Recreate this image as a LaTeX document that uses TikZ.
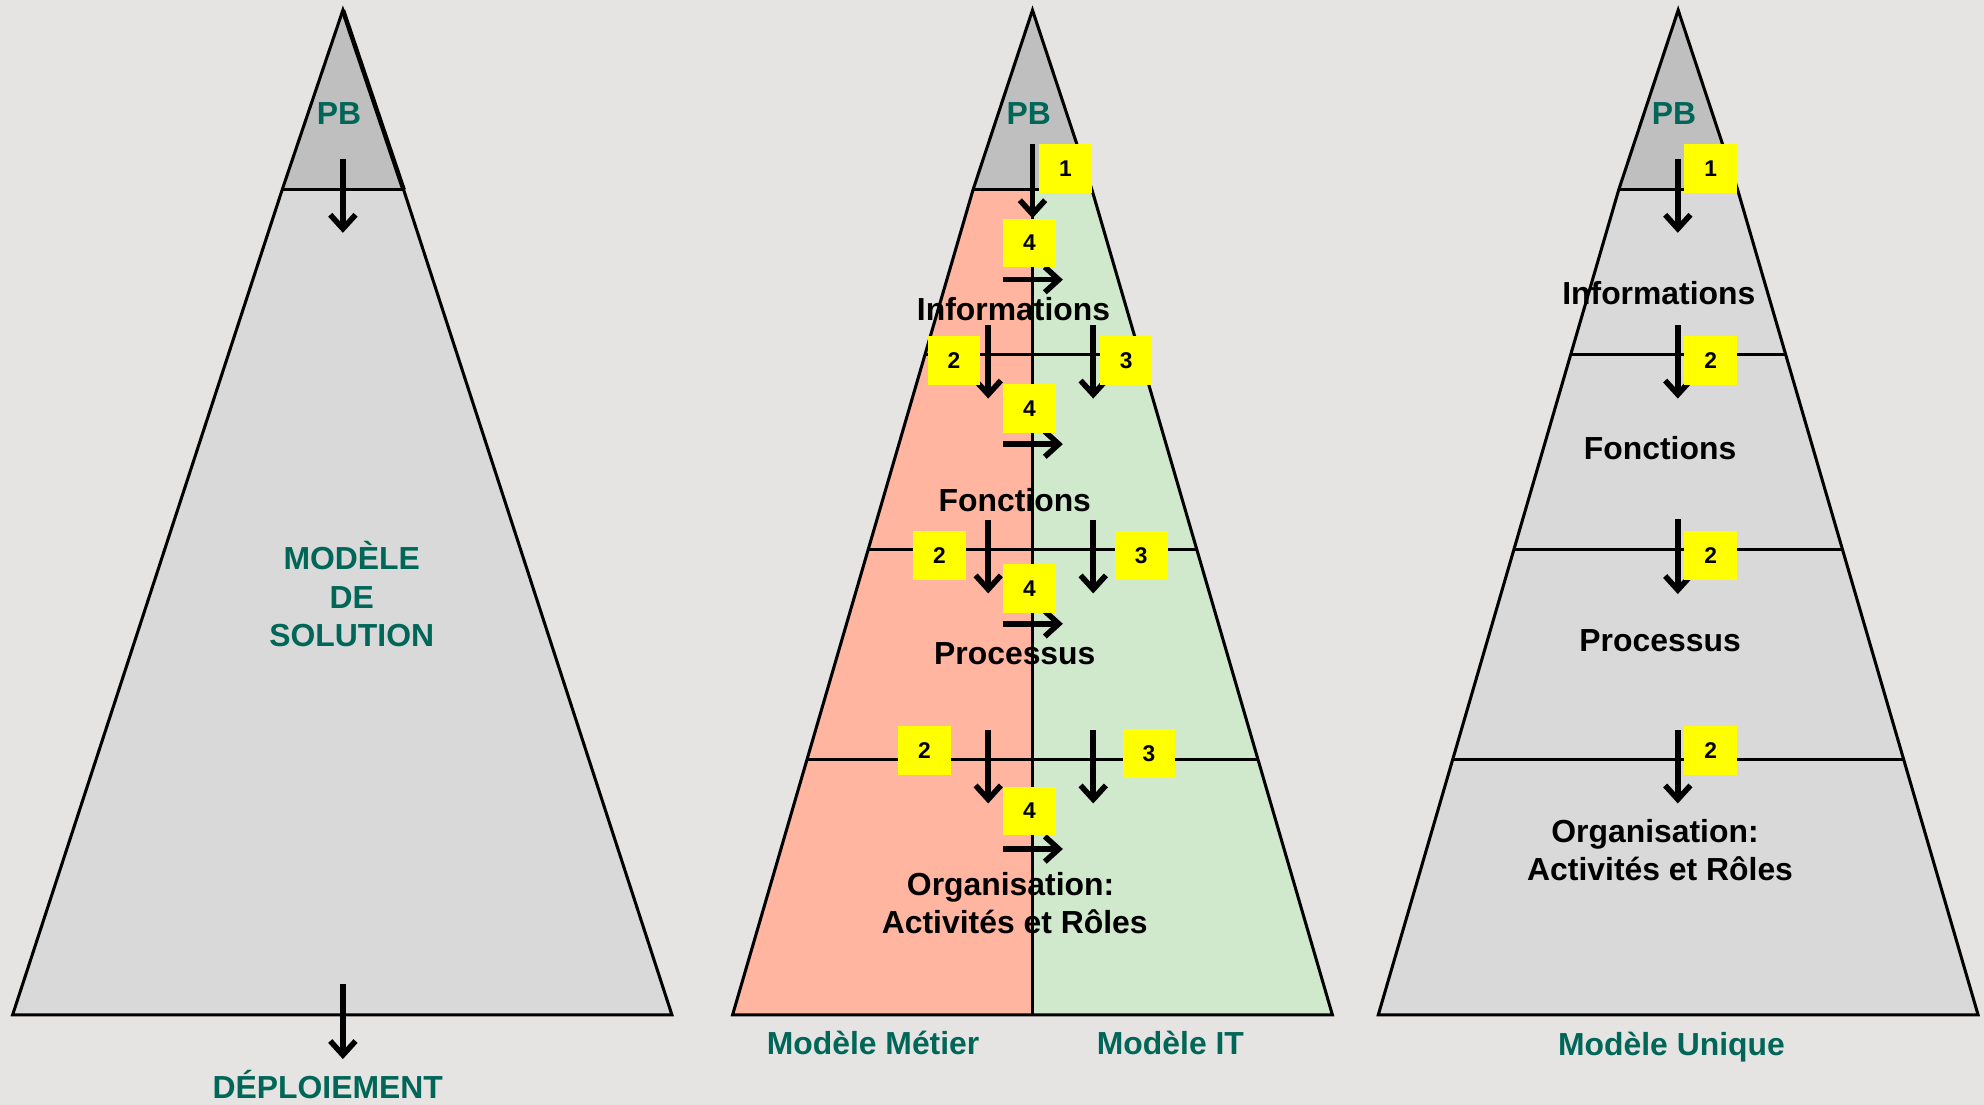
\documentclass[tikz,border=0pt]{standalone}
\usepackage{fontspec}
\setmainfont{Liberation Sans}
\usetikzlibrary{arrows.meta}

\definecolor{bg}{RGB}{229,228,226}
\definecolor{apexgrey}{RGB}{191,191,191}
\definecolor{bodygrey}{RGB}{217,217,217}
\definecolor{metier}{RGB}{255,181,160}
\definecolor{itgreen}{RGB}{208,232,204}
\definecolor{tealtext}{RGB}{0,102,88}
\definecolor{tagyellow}{RGB}{255,255,0}

\tikzset{
  rim/.style={line width=2.4pt, line join=miter},
  divider/.style={line width=2.2pt},
  flow/.style={line width=4.4pt, -{Straight Barb[length=11pt,width=20pt]}},
  lvl/.style={font=\bfseries\fontsize{25.2}{30}\selectfont, anchor=base, inner sep=0pt},
  tealtxt/.style={lvl, text=tealtext},
  tagbox/.style={fill=tagyellow, minimum width=41.5pt, minimum height=38.5pt,
                 inner sep=0pt, font=\bfseries\fontsize{18}{18}\selectfont},
}

\begin{document}
\begin{tikzpicture}[x=1pt,y=-1pt]
\fill[bg] (0,0) rectangle (1568,873);
\useasboundingbox (0,0) rectangle (1568,873);

% ---------- solution model (left) ----------
\fill[bodygrey] (223,150) -- (319,150) -- (531,802) -- (10,802) -- cycle;
\fill[apexgrey] (271,8) -- (319,150) -- (223,150) -- cycle;
\draw[rim] (271,8) -- (319,150) -- (531,802) -- (10,802) -- (223,150) -- cycle;
\draw[line width=3.6pt] (271,8) -- (319,150);
\draw[divider] (223,150) -- (319,150);

\node[tealtxt] (pbL) at (268,98) {PB};
\node[tealtxt] (solA) at (278,450) {MODÈLE};
\node[tealtxt] (solB) at (278,481) {DE};
\node[tealtxt] (solC) at (278,511) {SOLUTION};
\node[tealtxt] (deploy) at (259,868.5) {DÉPLOIEMENT};

\coordinate (lA1) at (271,126); \coordinate (lA2) at (271,184);
\coordinate (lB1) at (271,778); \coordinate (lB2) at (271,837);
\draw[flow] (lA1) -- (lA2);
\draw[flow] (lB1) -- (lB2);

% ---------- business / IT model (middle) ----------
\fill[metier] (769,150) -- (816,150) -- (816,802) -- (579,802) -- cycle;
\fill[itgreen] (816,150) -- (863,150) -- (1053,802) -- (816,802) -- cycle;
\fill[apexgrey] (816,8) -- (863,150) -- (769,150) -- cycle;
\draw[rim] (816,8) -- (863,150) -- (1053,802) -- (579,802) -- (769,150) -- cycle;
\draw[divider] (769,150) -- (863,150);
\draw[divider] (731.1,280) -- (900.9,280);
\draw[divider] (686.1,434) -- (945.9,434);
\draw[divider] (637.6,600) -- (994.4,600);
\draw[line width=1.8pt] (816,150) -- (816,802);

\node[tealtxt] (pbM) at (813,98) {PB};
\node[lvl] (infM) at (801,253) {Informations};
\node[lvl] (fonM) at (802,404.5) {Fonctions};
\node[lvl] (proM) at (802,525.5) {Processus};
\node[lvl] (orgM) at (798.7,707.4) {Organisation:};
\node[lvl] (actM) at (802,738) {Activités et Rôles};
\node[tealtxt] (metier) at (690,833) {Modèle Métier};
\node[tealtxt] (modit) at (925,833) {Modèle IT};

% vertical flows
\foreach \n/\x/\ya/\yb in {a/816/114/172.5, b/781/257/315, c/864/257/315,
    d/781/411/469, e/864/411/469, f/781/577/635, g/864/577/635} {
  \coordinate (mv\n1) at (\x,\ya);
  \coordinate (mv\n2) at (\x,\yb);
  \draw[flow] (mv\n1) -- (mv\n2);
}
% horizontal flows business -> IT
\foreach \n/\y in {a/221, b/351, c/493, d/671} {
  \coordinate (mh\n1) at (793,\y);
  \coordinate (mh\n2) at (840,\y);
  \draw[flow] (mh\n1) -- (mh\n2);
}

\node[tagbox] (mt1) at (842,133) {1};
\node[tagbox] (mt4a) at (813.5,192) {4};
\node[tagbox] (mt2a) at (754,285) {2};
\node[tagbox] (mt3a) at (890,285) {3};
\node[tagbox] (mt4b) at (813.5,323) {4};
\node[tagbox] (mt2b) at (742.5,439) {2};
\node[tagbox] (mt3b) at (902,439) {3};
\node[tagbox] (mt4c) at (813.5,465) {4};
\node[tagbox] (mt2c) at (730.7,593) {2};
\node[tagbox] (mt3c) at (908,595.5) {3};
\node[tagbox] (mt4d) at (813.5,641) {4};

% ---------- single model (right) ----------
\fill[bodygrey] (1279.3,150) -- (1373.3,150) -- (1563.3,802) -- (1089.3,802) -- cycle;
\fill[apexgrey] (1326.3,8) -- (1373.3,150) -- (1279.3,150) -- cycle;
\draw[rim] (1326.3,8) -- (1373.3,150) -- (1563.3,802) -- (1089.3,802) -- (1279.3,150) -- cycle;
\draw[divider] (1279.3,150) -- (1373.3,150);
\draw[divider] (1241.4,280) -- (1411.2,280);
\draw[divider] (1196.4,434) -- (1456.2,434);
\draw[divider] (1147.9,600) -- (1504.7,600);

\node[tealtxt] (pbR) at (1323,98) {PB};
\node[lvl] (infR) at (1311,240.5) {Informations};
\node[lvl] (fonR) at (1312,363) {Fonctions};
\node[lvl] (proR) at (1312,515) {Processus};
\node[lvl] (orgR) at (1308,666) {Organisation:};
\node[lvl] (actR) at (1312,696) {Activités et Rôles};
\node[tealtxt] (unique) at (1321,834) {Modèle Unique};

\foreach \n/\ya/\yb in {a/126/184, b/257/315, c/410/469.5, d/577/635} {
  \coordinate (rv\n1) at (1326,\ya);
  \coordinate (rv\n2) at (1326,\yb);
  \draw[flow] (rv\n1) -- (rv\n2);
}

\node[tagbox] (rt1) at (1352,133) {1};
\node[tagbox] (rt2a) at (1352,285) {2};
\node[tagbox] (rt2b) at (1352,439) {2};
\node[tagbox] (rt2c) at (1352,593) {2};
\end{tikzpicture}
\end{document}
